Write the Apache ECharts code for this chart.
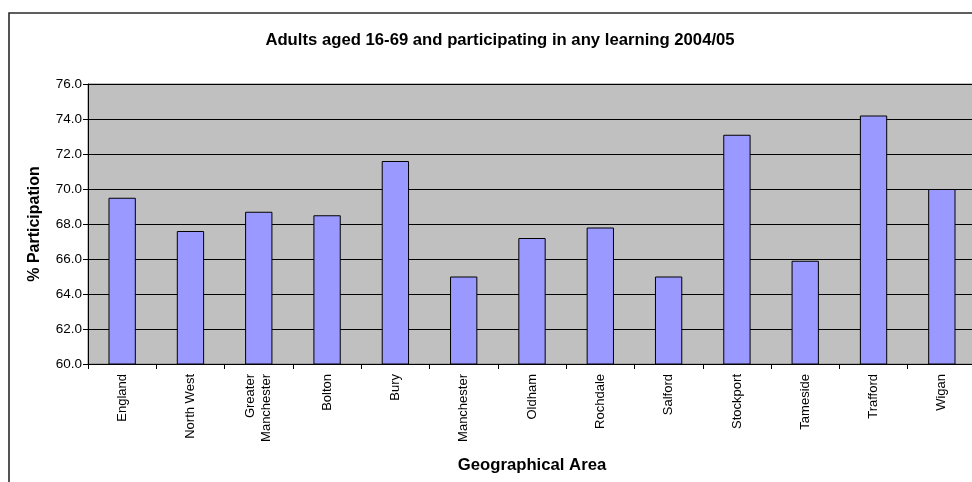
<!DOCTYPE html>
<html>
<head>
<meta charset="utf-8">
<title>Adults aged 16-69 and participating in any learning 2004/05</title>
<script src="https://cdn.jsdelivr.net/npm/echarts@6/dist/echarts.min.js"></script>
<style>
  html, body { margin: 0; padding: 0; background: #ffffff; overflow: hidden; width: 972px; height: 482px; }
  /* the sheet continues a little past the right edge of the page */
  #chart { width: 990px; height: 482px; }
</style>
</head>
<body>
<div id="chart"></div>
<script>
// Participation in any learning, adults aged 16-69, 2004/05
const areas = [
  'England', 'North West', 'Greater\nManchester', 'Bolton', 'Bury',
  'Manchester', 'Oldham', 'Rochdale', 'Salford', 'Stockport',
  'Tameside', 'Trafford', 'Wigan'
];
const participation = [69.5, 67.6, 68.7, 68.5, 71.6, 65.0, 67.2, 67.8, 65.0, 73.1, 65.9, 74.2, 70.0];
const yMin = 60, yMax = 76, yStep = 2;

const FONT = '"Liberation Sans", Arial, Helvetica, sans-serif';

const chart = echarts.init(document.getElementById('chart'), null, { renderer: 'canvas' });

chart.setOption({
  animation: false,
  backgroundColor: '#ffffff',
  textStyle: { fontFamily: FONT, color: '#000' },
  graphic: [
    {
      type: 'rect',
      silent: true,
      z: -10,
      shape: { x: 9, y: 13, width: 1010, height: 500 },
      style: { fill: '#ffffff', stroke: '#2a2a2a', lineWidth: 1.6 }
    },
    {
      type: 'text',
      silent: true,
      x: 500,
      y: 40,
      style: {
        text: 'Adults aged 16-69 and participating in any learning 2004/05',
        align: 'center',
        verticalAlign: 'middle',
        fontFamily: FONT,
        fontWeight: 'bold',
        fontSize: 16.7,
        fill: '#000'
      }
    }
  ],
  grid: {
    left: 88,
    right: 14,
    top: 84,
    bottom: 118,
    show: true,
    backgroundColor: '#C0C0C0',
    borderColor: '#808080',
    borderWidth: 1
  },
  xAxis: {
    type: 'category',
    data: areas,
    boundaryGap: true,
    name: 'Geographical Area',
    nameLocation: 'middle',
    nameGap: 93,
    nameTextStyle: { fontFamily: FONT, fontWeight: 'bold', fontSize: 16.7, color: '#000' },
    axisLine: { lineStyle: { color: '#000', width: 1 } },
    axisTick: { show: true, length: 5, inside: false, lineStyle: { color: '#000' } },
    axisLabel: {
      rotate: 90,
      interval: 0,
      margin: 10,
      fontFamily: FONT,
      fontSize: 13,
      lineHeight: 16,
      color: '#000'
    },
    splitLine: { show: false }
  },
  yAxis: {
    type: 'value',
    min: yMin,
    max: yMax,
    interval: yStep,
    name: '% Participation',
    nameLocation: 'middle',
    nameGap: 45,
    nameTextStyle: { fontFamily: FONT, fontWeight: 'bold', fontSize: 16, color: '#000' },
    axisLine: { show: true, lineStyle: { color: '#000', width: 1 } },
    axisTick: { show: true, length: 5, inside: false, lineStyle: { color: '#000' } },
    axisLabel: {
      margin: 6,
      fontFamily: FONT,
      fontSize: 13.5,
      color: '#000',
      formatter: v => v.toFixed(1)
    },
    splitLine: { show: true, lineStyle: { color: '#000', width: 1 } }
  },
  series: [
    {
      type: 'bar',
      data: participation,
      barWidth: '40%',
      itemStyle: { color: '#9999FF', borderColor: '#000', borderWidth: 1 }
    }
  ]
});
</script>
</body>
</html>
